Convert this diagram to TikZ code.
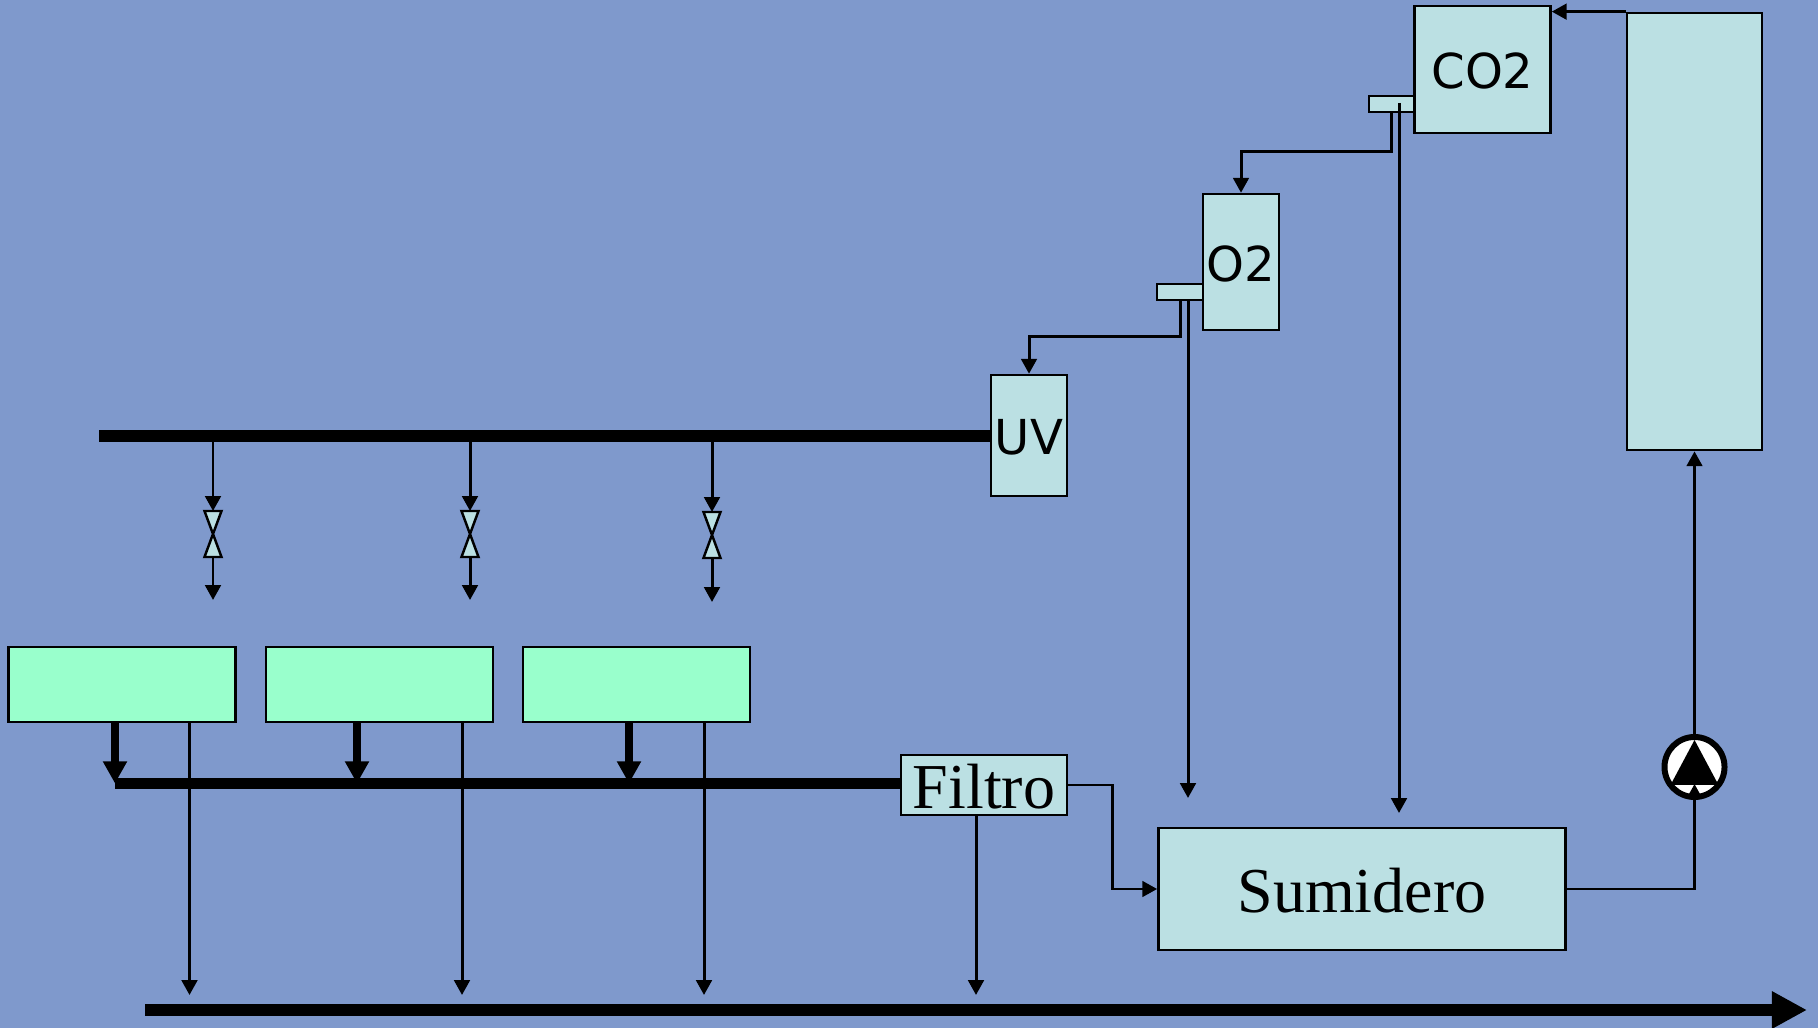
\documentclass[tikz,border=0pt]{standalone}
\usepackage{fontspec}
\setmainfont{Liberation Serif}
\newfontfamily\dejavu{DejaVu Sans}
\usetikzlibrary{arrows.meta}
\definecolor{fondo}{HTML}{7F99CC}
\definecolor{celeste}{HTML}{BBE0E3}
\definecolor{verde}{HTML}{99FFCC}
\tikzstyle{caja} = [rectangle, draw=black, fill=celeste, line width=0.7pt, inner sep=0pt]
\tikzstyle{rotulo} = [caja, text height=13.7pt, font=\fontsize{18.2}{18.2}\selectfont]
\tikzstyle{sensor} = [caja, text height=11.2pt, font=\dejavu\fontsize{13.7}{13.7}\selectfont]
\tikzstyle{tanque} = [rectangle, draw=black, fill=verde, line width=0.7pt, minimum width=2.27cm, minimum height=0.75cm]
\tikzstyle{valvula} = [draw=black, fill=celeste, line width=0.7pt, line join=miter]
\tikzstyle{linea} = [line width=0.85pt]
\tikzstyle{arrow} = [linea,-{Triangle[length=4.2pt,width=4.4pt]}]
\tikzstyle{gruesa} = [line width=2.3pt,-{Triangle[length=6.3pt,width=6.5pt]}]
\tikzstyle{barra} = [line width=3.4pt]
\begin{document}
\begin{tikzpicture}[x=0.01cm,y=-0.01cm]
	\useasboundingbox (0,0) rectangle (1818,1028);
	\fill[fondo] (0,0) rectangle (1818,1028);
	% analizadores
	\node (tabco) at (1391.5,104) [caja, minimum width=0.45cm, minimum height=0.16cm] {};
	\node (tabo) at (1180,292) [caja, minimum width=0.46cm, minimum height=0.16cm] {};
	\node (co) at (1482.5,69.5) [sensor, minimum width=1.36cm, minimum height=1.27cm] {CO2};
	\node (o) at (1241,262) [sensor, minimum width=0.76cm, minimum height=1.36cm] {O2};
	\node (uv) at (1029,435.5) [sensor, minimum width=0.76cm, minimum height=1.21cm] {UV};
	\node (torre) at (1694.5,231.5) [caja, minimum width=1.35cm, minimum height=4.37cm] {};
	% tanques
	\node (t1) at (122,684.5) [tanque] {};
	\node (t2) at (379.5,684.5) [tanque] {};
	\node (t3) at (636.5,684.5) [tanque] {};
	\node (filtro) at (984,785) [rotulo, minimum width=1.66cm, minimum height=0.6cm] {Filtro};
	\node (sumidero) at (1362,889) [rotulo, minimum width=4.07cm, minimum height=1.22cm] {Sumidero};
	% valvulas
	\coordinate (v1) at (213,511);
	\coordinate (v2) at (470,511);
	\coordinate (v3) at (712,512);
	\coordinate (w1) at (213,557);
	\coordinate (w2) at (470,557);
	\coordinate (w3) at (712,558);
	\draw[valvula] (v1) +(-8.5,0) -- +(8.5,0) -- +(-8.5,46) -- +(8.5,46) -- cycle;
	\draw[valvula] (v2) +(-8.5,0) -- +(8.5,0) -- +(-8.5,46) -- +(8.5,46) -- cycle;
	\draw[valvula] (v3) +(-8.5,0) -- +(8.5,0) -- +(-8.5,46) -- +(8.5,46) -- cycle;
	% puntos
	\coordinate (b1) at (99,436);
	\coordinate (s1) at (213,600);
	\coordinate (s2) at (470,600);
	\coordinate (s3) at (712,602);
	\coordinate (b2) at (115,783.5);
	\coordinate (b3) at (357,783.5);
	\coordinate (b4) at (629,783.5);
	\coordinate (d1) at (189.5,995);
	\coordinate (d2) at (462,995);
	\coordinate (d3) at (704,995);
	\coordinate (d4) at (976,995);
	\coordinate (f1) at (145,1010);
	\coordinate (f2) at (1807,1010);
	\coordinate (k1) at (1391.5,152);
	\coordinate (k2) at (1180,337);
	\coordinate (m1) at (1188,300);
	\coordinate (m2) at (1188,798);
	\coordinate (n1) at (1399,103);
	\coordinate (n2) at (1399,813);
	\coordinate (q1) at (1112,889);
	% barras
	\draw[barra] (b1) -- (b1 -| uv.west);
	\draw[barra] (b2) -- (b2 -| filtro.west);
	\draw[barra,-{Triangle[length=10pt,width=10pt]}] (f1) -- (f2);
	% ramales
	\draw[arrow] (v1 |- b1) -- (v1);
	\draw[arrow] (v2 |- b1) -- (v2);
	\draw[arrow] (v3 |- b1) -- (v3);
	\draw[arrow] (w1) -- (s1);
	\draw[arrow] (w2) -- (s2);
	\draw[arrow] (w3) -- (s3);
	\draw[gruesa] (b2 |- t1.south) -- (b2);
	\draw[gruesa] (b3 |- t2.south) -- (b3);
	\draw[gruesa] (b4 |- t3.south) -- (b4);
	\draw[arrow] (d1 |- t1.south) -- (d1);
	\draw[arrow] (d2 |- t2.south) -- (d2);
	\draw[arrow] (d3 |- t3.south) -- (d3);
	\draw[arrow] (d4 |- filtro.south) -- (d4);
	\draw[arrow] (filtro.east) -| (q1) -- (sumidero.west);
	% analizadores
	\draw[arrow] (tabco.south) -- (k1) -| (o.north);
	\draw[arrow] (tabo.south) -- (k2) -| (uv.north);
	\draw[arrow] (m1) -- (m2);
	\draw[arrow] (n1) -- (n2);
	\draw[arrow] (torre.north west) -- (torre.north west -| co.east);
	% bomba
	\node (bomba) at (1694.5,767) [circle, draw=black, fill=white, line width=1.7pt, minimum size=0.6cm, inner sep=0pt] {};
	\fill[black] (bomba) +(0,-27) -- +(24,18) -- +(-24,18) -- cycle;
	\coordinate (p1) at (1694.5,784);
	\draw[arrow] (sumidero.east) -| (p1);
	\draw[arrow] (bomba.north) -- (torre.south);
\end{tikzpicture}
\end{document}
